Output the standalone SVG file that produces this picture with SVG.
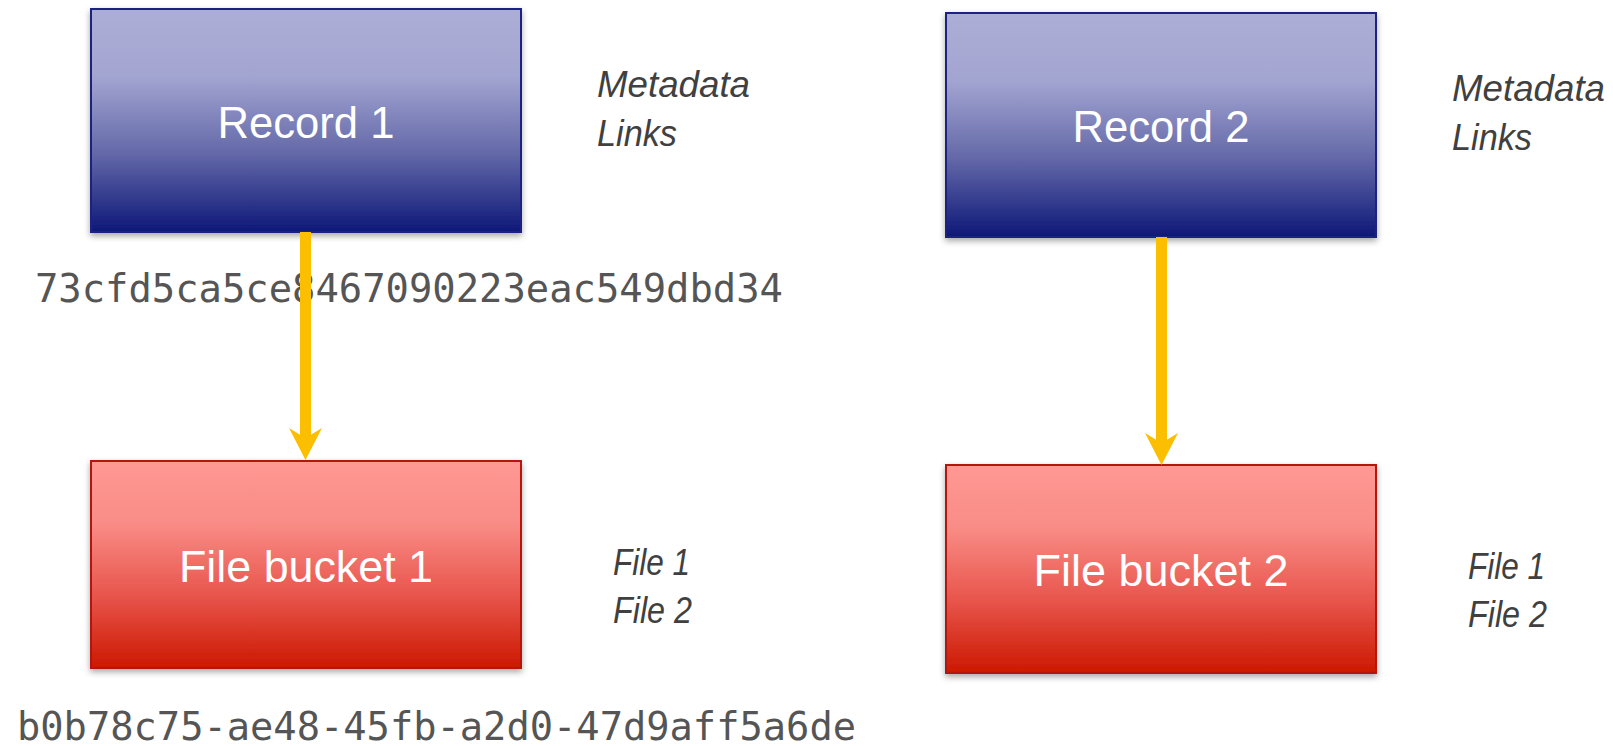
<svg xmlns="http://www.w3.org/2000/svg" width="1613" height="746" viewBox="0 0 1613 746">
<style>
.box-label{font-family:"Liberation Sans","Noto Sans",sans-serif;font-size:44px;fill:#ffffff;text-anchor:middle}
.side{font-family:"Liberation Sans","Noto Sans",sans-serif;font-style:italic;font-size:36px;fill:#404040}
.hash{font-family:"DejaVu Sans Mono","Liberation Mono",monospace;fill:#555555;font-size:38.8px}
.rec{fill:url(#gBlue);stroke:#1a2280;stroke-width:2;filter:url(#sh)}
.buck{fill:url(#gRed);stroke:#b3140c;stroke-width:2;filter:url(#sh)}
.conn{stroke:#fbbf00;stroke-width:11;fill:none}
</style>
<defs>
<linearGradient id="gBlue" x1="0" y1="0" x2="0" y2="1">
<stop offset="0" stop-color="#adaed6"/>
<stop offset="0.3" stop-color="#a3a5d1"/>
<stop offset="0.65" stop-color="#6368a8"/>
<stop offset="1" stop-color="#0d1878"/>
</linearGradient>
<linearGradient id="gRed" x1="0" y1="0" x2="0" y2="1">
<stop offset="0" stop-color="#ff9893"/>
<stop offset="0.3" stop-color="#f98c86"/>
<stop offset="0.65" stop-color="#e8554c"/>
<stop offset="1" stop-color="#cc1800"/>
</linearGradient>
<filter id="sh" x="-5%" y="-5%" width="110%" height="115%">
<feDropShadow dx="0" dy="3" stdDeviation="3" flood-color="#000" flood-opacity="0.35"/>
</filter>
<marker id="ah" markerUnits="userSpaceOnUse" viewBox="0 0 32 33" markerWidth="32" markerHeight="33" refX="10" refY="16.5" orient="auto">
<path d="M0,0 L32,16.5 L0,33 L10,16.5 Z" fill="#fbbf00"/>
</marker>
</defs>
<rect width="1613" height="746" fill="#ffffff"/>

<g id="record1">
<rect class="rec" x="91" y="9" width="430" height="223"/>
<text class="box-label" x="306" y="138" textLength="177" lengthAdjust="spacingAndGlyphs">Record 1</text>
</g>
<g id="record1-notes">
<text class="side" x="597" y="97" textLength="153" lengthAdjust="spacingAndGlyphs">Metadata</text>
<text class="side" x="597" y="146" textLength="80" lengthAdjust="spacingAndGlyphs">Links</text>
</g>
<g id="bucket1">
<rect class="buck" x="91" y="461" width="430" height="207"/>
<text class="box-label" x="306" y="582" textLength="254" lengthAdjust="spacingAndGlyphs">File bucket 1</text>
</g>
<g id="bucket1-notes">
<text class="side" x="613" y="575" textLength="77" lengthAdjust="spacingAndGlyphs">File 1</text>
<text class="side" x="613" y="623" textLength="79" lengthAdjust="spacingAndGlyphs">File 2</text>
</g>

<g id="record2">
<rect class="rec" x="946" y="13" width="430" height="224"/>
<text class="box-label" x="1161" y="142" textLength="177" lengthAdjust="spacingAndGlyphs">Record 2</text>
</g>
<g id="record2-notes">
<text class="side" x="1452" y="101" textLength="153" lengthAdjust="spacingAndGlyphs">Metadata</text>
<text class="side" x="1452" y="150" textLength="80" lengthAdjust="spacingAndGlyphs">Links</text>
</g>
<g id="bucket2">
<rect class="buck" x="946" y="465" width="430" height="208"/>
<text class="box-label" x="1161" y="586" textLength="255" lengthAdjust="spacingAndGlyphs">File bucket 2</text>
</g>
<g id="bucket2-notes">
<text class="side" x="1468" y="579" textLength="77" lengthAdjust="spacingAndGlyphs">File 1</text>
<text class="side" x="1468" y="627" textLength="79" lengthAdjust="spacingAndGlyphs">File 2</text>
</g>

<g id="hash1">
<text class="hash" x="35" y="302" textLength="748" lengthAdjust="spacingAndGlyphs">73cfd5ca5ce8467090223eac549dbd34</text>
</g>

<g id="connectors">
<line class="conn" x1="305.5" y1="232" x2="305.5" y2="438" marker-end="url(#ah)"/>
<line class="conn" x1="1161.5" y1="237" x2="1161.5" y2="443" marker-end="url(#ah)"/>
</g>

<g id="hash2">
<text class="hash" x="17" y="740" textLength="839" lengthAdjust="spacingAndGlyphs">b0b78c75-ae48-45fb-a2d0-47d9aff5a6de</text>
</g>
</svg>
